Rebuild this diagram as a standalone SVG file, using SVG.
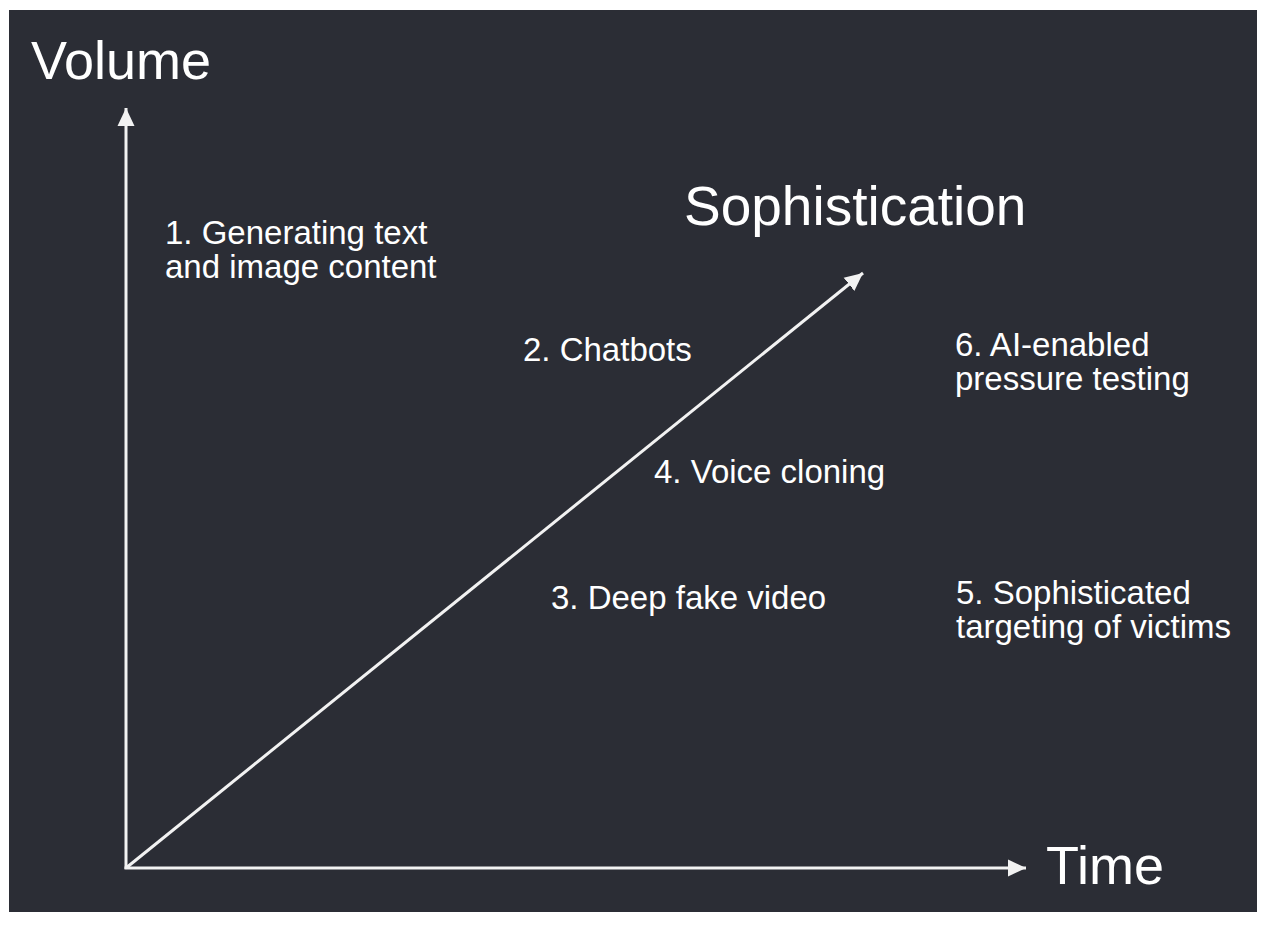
<svg xmlns="http://www.w3.org/2000/svg" width="1264" height="926" viewBox="0 0 1264 926">
<defs>
<style>
.t{font-family:"Liberation Sans",Arial,Helvetica,sans-serif;fill:#ffffff}
.big{font-size:54px}
.lbl{font-size:33px}
.ax{stroke:#f2f2f2;stroke-width:3;fill:none}
</style>
<marker id="ah" markerUnits="userSpaceOnUse" markerWidth="20" markerHeight="20" viewBox="0 0 20 20" refX="18" refY="10" orient="auto">
<path d="M0,1.5 L18,10 L0,18.5 Z" fill="#f2f2f2"/>
</marker>
</defs>
<rect x="0" y="0" width="1264" height="926" fill="#ffffff"/>
<rect x="9" y="10" width="1248" height="902" fill="#2b2d35"/>
<g id="connectors">
<line class="ax" x1="126" y1="869" x2="126" y2="108" marker-end="url(#ah)"/>
<line class="ax" x1="124.5" y1="868" x2="1026" y2="868" marker-end="url(#ah)"/>
<line class="ax" x1="126" y1="868" x2="863" y2="273" marker-end="url(#ah)"/>
</g>
<g id="axis-volume"><text class="t big" x="31" y="79">Volume</text></g>
<g id="axis-time"><text class="t big" x="1046" y="884">Time</text></g>
<g id="axis-sophistication"><text class="t" style="font-size:55px" x="684" y="225">Sophistication</text></g>
<g id="item1"><text class="t lbl" x="165" y="244">1. Generating text</text><text class="t lbl" x="165" y="278">and image content</text></g>
<g id="item2"><text class="t lbl" x="523" y="361">2. Chatbots</text></g>
<g id="item6"><text class="t lbl" x="955" y="356">6. AI-enabled</text><text class="t lbl" x="955" y="390">pressure testing</text></g>
<g id="item4"><text class="t lbl" x="654" y="483">4. Voice cloning</text></g>
<g id="item3"><text class="t lbl" x="551" y="609">3. Deep fake video</text></g>
<g id="item5"><text class="t lbl" x="956" y="604">5. Sophisticated</text><text class="t lbl" x="956" y="638">targeting of victims</text></g>
</svg>
